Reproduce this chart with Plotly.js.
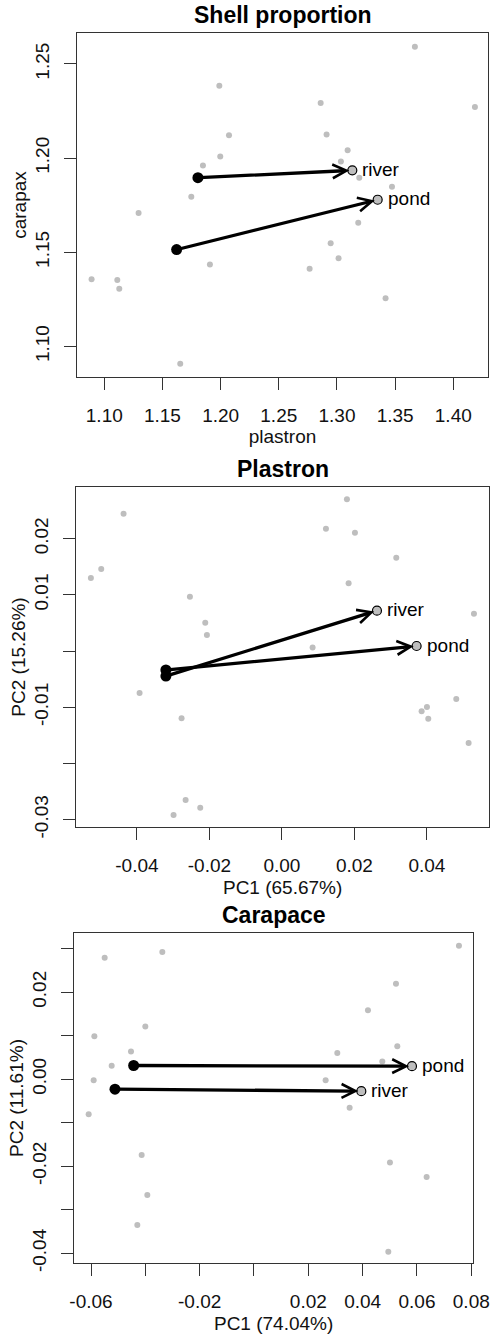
<!DOCTYPE html>
<html><head><meta charset="utf-8">
<script src="https://cdn.plot.ly/plotly-3.0.1.min.js"></script>
<style>html,body{margin:0;padding:0;background:#fff}#chart{width:492px;height:1336px}</style>
</head><body><div id="chart"></div>
<script>
// ---------- Panel 1: Shell proportion ----------
const shellGreyX = [1.367, 1.1989, 1.286, 1.4186, 1.2072, 1.2911, 1.3092, 1.1997, 1.3034, 1.1848, 1.3192, 1.3473, 1.1748, 1.1295, 1.3183, 1.2946, 1.3014, 1.1908, 1.2765, 1.0891, 1.1112, 1.1129, 1.3418, 1.1653];
const shellGreyY = [1.2592, 1.2385, 1.2293, 1.2272, 1.2122, 1.2125, 1.2042, 1.2009, 1.1982, 1.1961, 1.1896, 1.1848, 1.1795, 1.1708, 1.1657, 1.1548, 1.1468, 1.1435, 1.1412, 1.1357, 1.1352, 1.1306, 1.1256, 1.0908];
const shellGroups = ["river", "pond"];
const shellStartX = [1.1805, 1.1622];
const shellStartY = [1.1896, 1.1514];
const shellEndX = [1.3132, 1.3350];
const shellEndY = [1.1935, 1.1779];
const shellXTicks = [1.10, 1.15, 1.20, 1.25, 1.30, 1.35, 1.40];
const shellXTickText = ["1.10", "1.15", "1.20", "1.25", "1.30", "1.35", "1.40"];
const shellYTicks = [1.10, 1.15, 1.20, 1.25];
const shellYTickText = ["1.10", "1.15", "1.20", "1.25"];

// ---------- Panel 2: Plastron ----------
const plasGreyX = [0.01793, -0.04368, 0.01214, 0.02014, 0.03154, -0.04984, -0.05269, 0.01839, -0.02538, 0.05297, -0.02115, -0.02069, 0.00846, -0.03926, 0.04809, 0.0400, 0.03853, 0.04037, -0.02768, 0.05149, -0.02657, -0.02253, -0.02989, -0.02345];
const plasGreyY = [0.0270, 0.02445, 0.02178, 0.02107, 0.01662, 0.0146, 0.0130, 0.01205, 0.00968, 0.00664, 0.00505, 0.00286, 0.00065, -0.00747, -0.00853, -0.00995, -0.01072, -0.01203, -0.01197, -0.01636, -0.02650, -0.02787, -0.02918, -0.03357];
const plasGroups = ["river", "pond"];
const plasStartX = [-0.0320, -0.0320];
const plasStartY = [-0.00444, -0.00337];
const plasEndX = [0.02621, 0.03715];
const plasEndY = [0.00719, 0.00090];
const plasXTicks = [-0.04, -0.02, 0.00, 0.02, 0.04];
const plasXTickText = ["-0.04", "-0.02", "0.00", "0.02", "0.04"];
const plasYTicks = [-0.03, -0.02, -0.01, 0.00, 0.01, 0.02];
const plasYTickText = ["-0.03", "", "-0.01", "", "0.01", "0.02"];

// ---------- Panel 3: Carapace ----------
const carGreyX = [0.07546, -0.03374, -0.05497, 0.05227, 0.04196, -0.0400, -0.05877, 0.05276, -0.04528, 0.03067, 0.04724, -0.05239, -0.05902, 0.02638, 0.03521, -0.06086, -0.04135, 0.05006, 0.06356, -0.03926, -0.04294, 0.04945];
const carGreyY = [0.03067, 0.02922, 0.02792, 0.02195, 0.01583, 0.01208, 0.00987, 0.00757, 0.00635, 0.00604, 0.00405, 0.00306, -0.00023, -0.00023, -0.00658, -0.00803, -0.01744, -0.01912, -0.02249, -0.02662, -0.03350, -0.03962];
const carGroups = ["pond", "river"];
const carStartX = [-0.0443, -0.05117];
const carStartY = [0.00314, -0.00229];
const carEndX = [0.05816, 0.03951];
const carEndY = [0.00298, -0.00275];
const carXTicks = [-0.06, -0.04, -0.02, 0.00, 0.02, 0.04, 0.06, 0.08];
const carXTickText = ["-0.06", "", "-0.02", "", "0.02", "0.04", "0.06", "0.08"];
const carYTicks = [-0.04, -0.03, -0.02, -0.01, 0.00, 0.01, 0.02, 0.03];
const carYTickText = ["-0.04", "", "-0.02", "", "0.00", "", "0.02", ""];

// ---------- layout helpers ----------
const W = 492, H = 1336;
const FONT = "Liberation Sans, Arial, Helvetica, sans-serif";
const GREY = "#bebebe";

const panels = [
  {title: "Shell proportion", xt: "plastron", yt: "carapax",
   box: [76.7, 488.3, 33.3, 376.7], xr: [1.0763, 1.4301], yr: [1.0839, 1.2663],
   gx: shellGreyX, gy: shellGreyY, g: shellGroups, sx: shellStartX, sy: shellStartY, ex: shellEndX, ey: shellEndY,
   xtv: shellXTicks, xtt: shellXTickText, ytv: shellYTicks, ytt: shellYTickText},
  {title: "Plastron", xt: "PC1 (65.67%)", yt: "PC2 (15.26%)",
   box: [76, 489.3, 486.7, 827.3], xr: [-0.0568, 0.0572], yr: [-0.03136, 0.02925],
   gx: plasGreyX, gy: plasGreyY, g: plasGroups, sx: plasStartX, sy: plasStartY, ex: plasEndX, ey: plasEndY,
   xtv: plasXTicks, xtt: plasXTickText, ytv: plasYTicks, ytt: plasYTickText},
  {title: "Carapace", xt: "PC1 (74.04%)", yt: "PC2 (11.61%)",
   box: [74, 473.3, 932.7, 1263.3], xr: [-0.06626, 0.08074], yr: [-0.0423, 0.03365],
   gx: carGreyX, gy: carGreyY, g: carGroups, sx: carStartX, sy: carStartY, ex: carEndX, ey: carEndY,
   xtv: carXTicks, xtt: carXTickText, ytv: carYTicks, ytt: carYTickText}
];

const data = [];
const layout = {
  width: W, height: H,
  margin: {l: 0, r: 0, t: 0, b: 0},
  paper_bgcolor: "#ffffff", plot_bgcolor: "#ffffff",
  showlegend: false,
  font: {family: FONT, size: 19, color: "#111"},
  annotations: []
};

panels.forEach((p, i) => {
  const n = i === 0 ? "" : String(i + 1);
  const xa = "x" + n, ya = "y" + n;
  const [l, r, t, b] = p.box;
  const common = {
    showline: true, mirror: true, linecolor: "#333", linewidth: 1,
    ticks: "outside", ticklen: 12, tickwidth: 1, tickcolor: "#333",
    showgrid: false, zeroline: false, fixedrange: true,
    tickfont: {family: FONT, size: 19, color: "#111"}
  };
  layout["xaxis" + n] = Object.assign({}, common, {
    domain: [l / W, r / W], range: p.xr, anchor: ya,
    tickmode: "array", tickvals: p.xtv, ticktext: p.xtt,
    ticklabelstandoff: 9,
    title: {text: p.xt, font: {family: FONT, size: 19, color: "#111"}, standoff: 5}
  });
  layout["yaxis" + n] = Object.assign({}, common, {
    domain: [1 - b / H, 1 - t / H], range: p.yr, anchor: xa,
    tickmode: "array", tickvals: p.ytv, ticktext: p.ytt, tickangle: -90,
    ticklabelstandoff: 7,
    title: {text: p.yt, font: {family: FONT, size: 19, color: "#111"}, standoff: 0}
  });
  layout.annotations.push({
    xref: "paper", yref: "paper", x: ((l + r) / 2) / W, y: 1 - (t - 18) / H,
    xanchor: "center", yanchor: "middle", showarrow: false,
    text: "<b>" + p.title + "</b>", font: {family: FONT, size: 23, color: "#000"}
  });

  data.push({
    type: "scatter", mode: "markers", x: p.gx, y: p.gy, xaxis: xa, yaxis: ya,
    marker: {color: GREY, size: 6}, hoverinfo: "skip"
  });
  data.push({
    type: "scatter", mode: "markers", x: p.sx, y: p.sy, xaxis: xa, yaxis: ya,
    marker: {color: "#000", size: 11}, hoverinfo: "skip"
  });
  p.g.forEach((g, k) => {
    layout.annotations.push({
      xref: xa, yref: ya, axref: xa, ayref: ya,
      x: p.ex[k], y: p.ey[k], ax: p.sx[k], ay: p.sy[k],
      text: "", showarrow: true, arrowhead: 5, arrowsize: 0.82, arrowwidth: 3.3,
      arrowcolor: "#000", standoff: 3
    });
    layout.annotations.push({
      xref: xa, yref: ya, x: p.ex[k], y: p.ey[k],
      xanchor: "left", yanchor: "middle", xshift: 8, yshift: 1,
      showarrow: false, text: g, font: {family: FONT, size: 19, color: "#000"}
    });
  });
  data.push({
    type: "scatter", mode: "markers", x: p.ex, y: p.ey, xaxis: xa, yaxis: ya,
    marker: {color: GREY, size: 9, line: {color: "#000", width: 1.2}}, hoverinfo: "skip"
  });
});

Plotly.newPlot("chart", data, layout, {staticPlot: true, displayModeBar: false});
</script>
</body></html>
